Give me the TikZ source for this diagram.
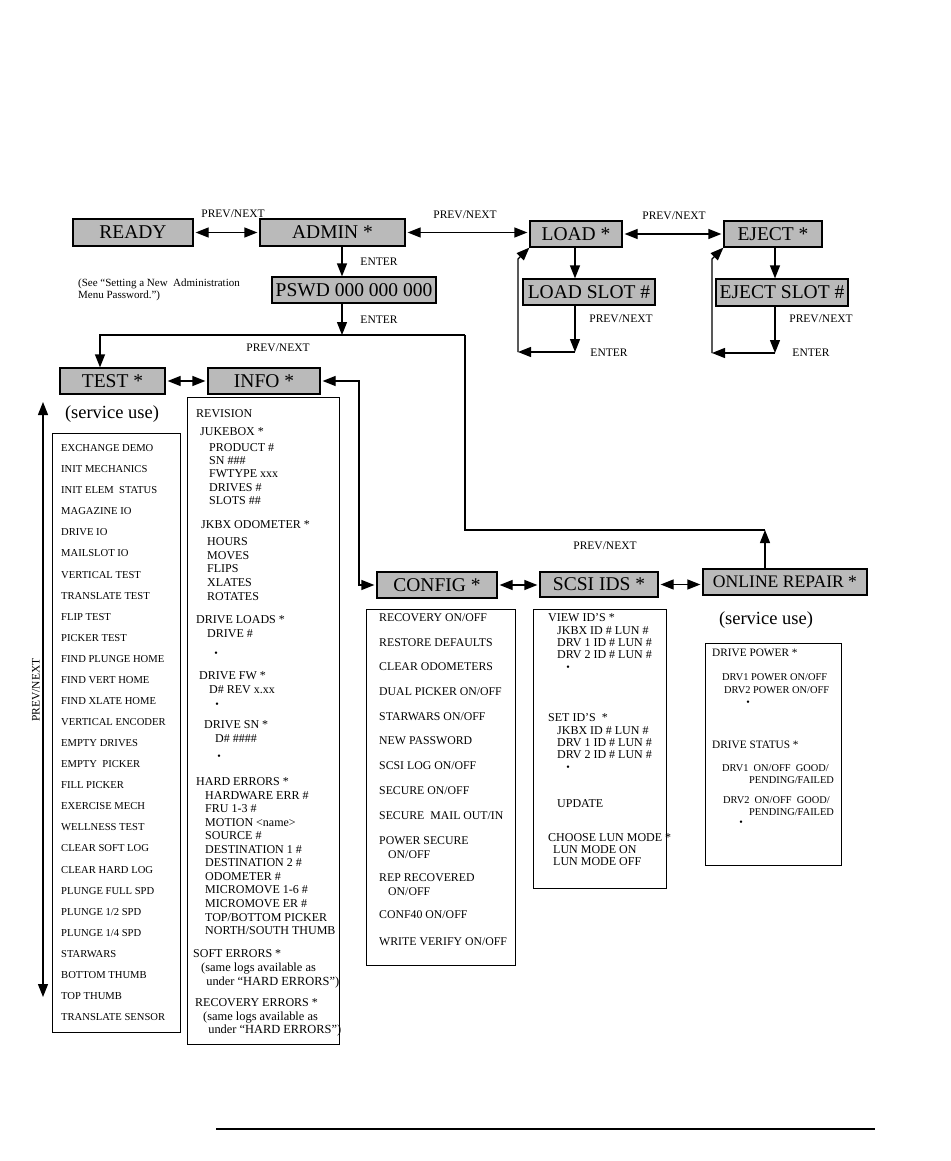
\documentclass[tikz,border=0pt]{standalone}
\usepackage{fontspec}
\setmainfont{Liberation Serif}
\usetikzlibrary{arrows.meta}
\begin{document}
\begin{tikzpicture}[x=1pt,y=-1pt,line join=miter,
  >={Triangle[length=13pt,width=10pt]},
  line/.style={line width=1.2pt},
  arr/.style={line,->},
  dbl/.style={line,<->,shorten <=2pt,shorten >=2pt},
  box/.style={draw,line width=1.2pt,fill=black!27,inner sep=0pt,font=\fontsize{19.5}{20}\selectfont},
  listbox/.style={draw,line width=1.1pt,inner sep=0pt,anchor=north west},
  lbl/.style={font=\fontsize{11.5}{12}\selectfont,inner sep=0pt},
  tl/.style={font=\fontsize{10.6}{11}\selectfont,inner sep=0pt,anchor=base west},
  il/.style={font=\fontsize{12}{12}\selectfont,inner sep=0pt,anchor=base west},
  ils/.style={font=\fontsize{12.4}{12}\selectfont,inner sep=0pt,anchor=base west},
  cl/.style={font=\fontsize{11.8}{12}\selectfont,inner sep=0pt,anchor=base west},
  sl/.style={font=\fontsize{12}{12}\selectfont,inner sep=0pt,anchor=base west},
  ol/.style={font=\fontsize{10.4}{11}\selectfont,inner sep=0pt,anchor=base west},
  oh/.style={font=\fontsize{11.3}{12}\selectfont,inner sep=0pt,anchor=base west},
  dotn/.style={font=\fontsize{10}{10}\selectfont,inner sep=0pt},
  svc/.style={font=\fontsize{18.5}{19}\selectfont,inner sep=0pt}]
\useasboundingbox (0,0) rectangle (950,1161);
\fill[white] (0,0) rectangle (950,1161);

% ---------- main boxes ----------
\node[box,minimum width=120pt,minimum height=27pt] (ready) at (133,232.5) {READY};
\node[box,minimum width=145pt,minimum height=27pt] (admin) at (332.5,232.5) {ADMIN *};
\node[box,minimum width=92pt,minimum height=26pt] (load) at (576,234) {LOAD *};
\node[box,minimum width=98pt,minimum height=26pt] (eject) at (773,234) {EJECT *};
\node[box,minimum width=132pt,minimum height=26pt] (lslot) at (589,292) {LOAD SLOT \#};
\node[box,minimum width=132pt,minimum height=27pt] (eslot) at (782,292.5) {EJECT SLOT \#};
\node[box,minimum width=164pt,minimum height=26pt] (pswd) at (354,290) {PSWD 000 000 000};
\node[box,minimum width=105pt,minimum height=26pt] (test) at (112.5,381) {TEST *};
\node[box,minimum width=112pt,minimum height=26pt] (info) at (264,381) {INFO *};
\node[box,minimum width=120pt,minimum height=26pt] (config) at (437,585) {CONFIG *};
\node[box,minimum width=118pt,minimum height=25pt] (scsi) at (599,584.5) {SCSI IDS *};
\node[box,minimum width=164pt,minimum height=26pt,font=\fontsize{17.6}{18}\selectfont] (online) at (785,582) {ONLINE REPAIR *};

% ---------- labels ----------
\node[lbl] (l1) at (233,214) {PREV/NEXT};
\node[lbl] (l2) at (465,215) {PREV/NEXT};
\node[lbl] (l3) at (674,216) {PREV/NEXT};
\node[lbl] (l4) at (379,262) {ENTER};
\node[lbl] (l5) at (379,320) {ENTER};
\node[lbl] (l6) at (278,348) {PREV/NEXT};
\node[lbl] (l7) at (621,319) {PREV/NEXT};
\node[lbl] (l8) at (609,353) {ENTER};
\node[lbl] (l9) at (821,319) {PREV/NEXT};
\node[lbl] (l10) at (811,353) {ENTER};
\node[lbl] (l11) at (605,546) {PREV/NEXT};
\node[lbl,rotate=90] (l12) at (36,690) {PREV/NEXT};
\node[font=\fontsize{11}{12}\selectfont,inner sep=0pt,anchor=west,align=left] (note) at (78,290)
  {(See “Setting a New\ \ Administration\\Menu Password.”)};
\node[svc] (svc1) at (112,414) {(service use)};
\node[svc] (svc2) at (766,620) {(service use)};

% ---------- coordinates ----------
\coordinate (j) at (342,335);
\coordinate (jl) at (100,335);
\coordinate (jr) at (465,335);
\coordinate (rr) at (765,530);
\coordinate (rl) at (465,530);
\coordinate (ic) at (359,381);
\coordinate (le) at (575,352);
\coordinate (lc) at (518,352);
\coordinate (lt) at (518,259);
\coordinate (ee) at (775,353);
\coordinate (ec) at (712,353);
\coordinate (et) at (712,259);
\coordinate (pt) at (43,402);
\coordinate (pb) at (43,997);

% ---------- connectors ----------
\draw[dbl] (ready.east) -- (admin.west);
\draw[dbl] (admin.east) -- (admin.east -| load.west);
\draw[dbl] (load.east) -- (load.east -| eject.west);
\draw[arr] (admin.south -| j) -- (j |- pswd.north);
\draw[arr] (pswd.south -| j) -- (j);
\draw[arr] (jr) -- (jl) -- (jl |- test.north);
\draw[arr] (online.north -| rr) -- (rr);
\draw[line] (rr) -- (rl) -- (jr);
\draw[dbl] (test.east) -- (info.west);
\draw[dbl] (info.east) -- (ic) -- (ic |- config.west) -- (config.west);
\draw[dbl] (config.east) -- (config.east -| scsi.west);
\draw[dbl] (scsi.east) -- (scsi.east -| online.west);
\draw[arr] (load.south -| le) -- (le |- lslot.north);
\draw[arr] (lslot.south -| le) -- (le);
\draw[arr] (le) -- (lc);
\draw[arr] (lc) -- (lt) -- (load.south west);
\draw[arr] (eject.south -| ee) -- (ee |- eslot.north);
\draw[arr] (eslot.south -| ee) -- (ee);
\draw[arr] (ee) -- (ec);
\draw[arr] (ec) -- (et) -- (eject.south west);
\draw[line,<->] (pt) -- (pb);

% ---------- list boxes ----------
\node[listbox,minimum width=128pt,minimum height=599pt] (testlist) at (52,433) {};
\node[listbox,minimum width=152pt,minimum height=647pt] (infolist) at (187,397) {};
\node[listbox,minimum width=149pt,minimum height=356pt] (conflist) at (366,609) {};
\node[listbox,minimum width=133pt,minimum height=279pt] (scsilist) at (533,609) {};
\node[listbox,minimum width=136pt,minimum height=222pt] (onlist) at (705,643) {};

% ---------- TEST list ----------
\foreach \t [count=\i from 0] in {EXCHANGE DEMO, INIT MECHANICS, INIT ELEM\ \ STATUS, MAGAZINE IO,
  DRIVE IO, MAILSLOT IO, VERTICAL TEST, TRANSLATE TEST, FLIP TEST, PICKER TEST,
  FIND PLUNGE HOME, FIND VERT HOME, FIND XLATE HOME, VERTICAL ENCODER, EMPTY DRIVES,
  EMPTY\ \ PICKER, FILL PICKER, EXERCISE MECH, WELLNESS TEST, CLEAR SOFT LOG, CLEAR HARD LOG,
  PLUNGE FULL SPD, {PLUNGE 1/2 SPD}, {PLUNGE 1/4 SPD}, STARWARS, BOTTOM THUMB, TOP THUMB, TRANSLATE SENSOR}
  \node[tl] (t\i) at (61,{448+21.07*\i+3.6}) {\t};

% ---------- INFO list ----------
\foreach \x/\y/\t [count=\i] in {196/413/{REVISION}, 200/431/{JUKEBOX *}, 209/447/{PRODUCT \#},
  209/460/{SN \#\#\#}, 209/473/{FWTYPE xxx}, 209/487/{DRIVES \#}, 209/500/{SLOTS \#\#},
  201/524/{JKBX ODOMETER *}, 207/541/{HOURS}, 207/555/{MOVES}, 207/568/{FLIPS}, 207/582/{XLATES},
  207/596/{ROTATES}, 196/619/{DRIVE LOADS *}, 207/633/{DRIVE \#}, 199/675/{DRIVE FW *},
  209/689/{D\# REV x.xx}, 204/724/{DRIVE SN *}, 215/738/{D\# \#\#\#\#}, 196/781/{HARD ERRORS *},
  205/795/{HARDWARE ERR \#}, 205/808/{FRU 1-3 \#}, 205/822/{MOTION <name>}, 205/835/{SOURCE \#},
  205/849/{DESTINATION 1 \#}, 205/862/{DESTINATION 2 \#}, 205/876/{ODOMETER \#},
  205/889/{MICROMOVE 1-6 \#}, 205/903/{MICROMOVE ER \#}, 205/917/{TOP/BOTTOM PICKER},
  205/930/{NORTH/SOUTH THUMB}, 193/953/{SOFT ERRORS *}, 195/1002/{RECOVERY ERRORS *}}
  \node[il] (i\i) at (\x,\y+4.2) {\t};
\node[ils] (is1) at (201,967+4.2) {(same logs available as};
\node[ils] (is2) at (203,981+4.2) {\ under “HARD ERRORS”)};
\node[ils] (is3) at (203,1016+4.2) {(same logs available as};
\node[ils] (is4) at (205,1029+4.2) {\ under “HARD ERRORS”)};

% ---------- CONFIG list ----------
\foreach \x/\y/\t [count=\i] in {379/617/{RECOVERY ON/OFF}, 379/642/{RESTORE DEFAULTS},
  379/666/{CLEAR ODOMETERS}, 379/691/{DUAL PICKER ON/OFF}, 379/716/{STARWARS ON/OFF},
  379/740/{NEW PASSWORD}, 379/765/{SCSI LOG ON/OFF}, 379/790/{SECURE ON/OFF},
  379/815/{SECURE\ \ MAIL OUT/IN}, 379/840/{POWER SECURE}, 388/854/{ON/OFF},
  379/877/{REP RECOVERED}, 388/891/{ON/OFF}, 379/914/{CONF40 ON/OFF}, 379/941/{WRITE VERIFY ON/OFF}}
  \node[cl] (c\i) at (\x,\y+4) {\t};

% ---------- SCSI list ----------
\foreach \x/\y/\t [count=\i] in {548/617/{VIEW ID'S *}, 557/630/{JKBX ID \# LUN \#},
  557/642/{DRV 1 ID \# LUN \#}, 557/654/{DRV 2 ID \# LUN \#}, 548/717/{SET ID'S\ \ *},
  557/730/{JKBX ID \# LUN \#}, 557/742/{DRV 1 ID \# LUN \#}, 557/754/{DRV 2 ID \# LUN \#},
  557/803/{UPDATE}, 548/837/{CHOOSE LUN MODE *}, 553/849/{LUN MODE ON}, 553/861/{LUN MODE OFF}}
  \node[sl] (s\i) at (\x,\y+4) {\t};

% ---------- ONLINE REPAIR list ----------
\node[oh] (o1) at (712,653+3.8) {DRIVE POWER *};
\node[ol] (o2) at (722,677+3.5) {DRV1 POWER ON/OFF};
\node[ol] (o3) at (724,690+3.5) {DRV2 POWER ON/OFF};
\node[oh] (o4) at (712,745+3.8) {DRIVE STATUS *};
\node[ol] (o5) at (722,768+3.5) {DRV1\ \ ON/OFF\ \ GOOD/};
\node[ol] (o6) at (749,780+3.5) {PENDING/FAILED};
\node[ol] (o7) at (723,800+3.5) {DRV2\ \ ON/OFF\ \ GOOD/};
\node[ol] (o8) at (749,812+3.5) {PENDING/FAILED};

% ---------- dots ----------
\foreach \x/\y [count=\i] in {216/654, 217/705, 219/757, 568/668, 568/768, 748/703, 741/823}
  \node[dotn] (d\i) at (\x,\y) {•};

% ---------- bottom rule ----------
\coordinate (b1) at (216,1129);
\coordinate (b2) at (875,1129);
\draw[line width=2pt] (b1) -- (b2);
\end{tikzpicture}
\end{document}
